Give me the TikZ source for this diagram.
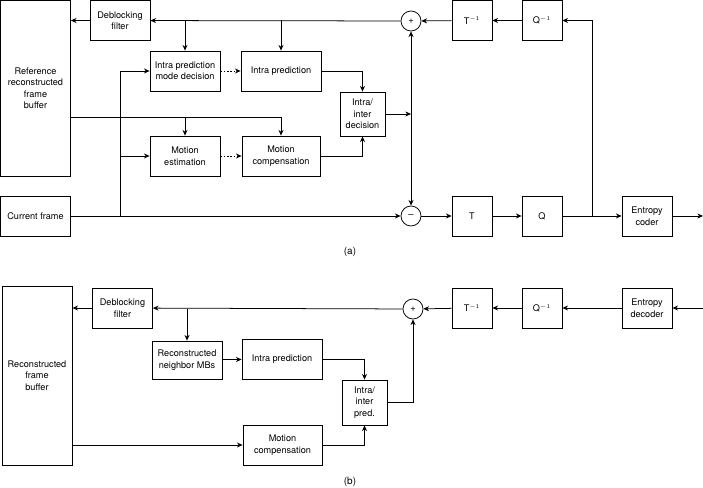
\documentclass[tikz,border=0pt]{standalone}
\usepackage{fontspec}
\setmainfont{TeX Gyre Heros}
\usepackage{tikz}
\usetikzlibrary{arrows.meta, positioning, calc}
\tikzset{
  block/.style={rectangle, draw=black, fill=white, align=center,
    minimum height=1.2cm, inner sep=1pt,
    font=\fontsize{7.8}{9.8}\selectfont, line width=0.65pt},
  sumnode/.style={circle, draw=black, fill=white, minimum size=0.6cm,
    inner sep=0pt, font=\fontsize{8}{9}\selectfont, line width=0.65pt},
  arrow/.style={-{Stealth[length=1.7mm, width=1.5mm]}, line width=0.65pt, color=black},
  line/.style={line width=0.65pt, color=black}
}

\begin{document}
\begin{tikzpicture}[x=0.03cm, y=-0.03cm,
  dotarrow/.style={arrow, dash pattern=on 1.4pt off 1.4pt},
  caption/.style={font=\fontsize{8.5}{9}\selectfont}]

  \useasboundingbox (0,0) rectangle (703,488);

  % (a) encoder
  \node[block, minimum width=2.1cm, minimum height=5.28cm] (buf) at (35.5,88) {Reference\\reconstructed\\frame\\buffer};
  \node[block, minimum width=1.8cm] (dbf) at (120,20.5) {Deblocking\\filter};
  \node[block, minimum width=2.1cm] (ipmd) at (185,71) {Intra prediction\\mode decision};
  \node[block, minimum width=2.4cm] (ip) at (281,71) {Intra prediction};
  \node[block, minimum width=2.1cm] (me) at (185,156) {Motion\\estimation};
  \node[block, minimum width=2.34cm] (mc) at (281,156) {Motion\\compensation};
  \node[block, minimum width=1.35cm, minimum height=1.32cm] (dec) at (362.5,114) {Intra/\\inter\\decision};
  \node[block, minimum width=2.1cm] (cur) at (35.5,216) {Current frame};
  \node[sumnode] (plus) at (411,21) {+};
  \node[sumnode] (minus) at (411,216) {--};
  \node[block, minimum width=1.2cm] (tinv) at (472,20.5) {T$^{-1}$};
  \node[block, minimum width=1.2cm] (qinv) at (542,20.5) {Q$^{-1}$};
  \node[block, minimum width=1.2cm] (t) at (472,216) {T};
  \node[block, minimum width=1.2cm] (q) at (542,216) {Q};
  \node[block, minimum width=1.5cm] (ec) at (647,216) {Entropy\\coder};
  \node[caption] (capa) at (350,252) {(a)};

  \coordinate (split) at (120,216);
  \coordinate (bufout) at (buf.east |- 0,117);
  \coordinate (join) at (dec.east -| plus);
  \coordinate (qsplit) at (592,216);
  \coordinate (ecout) at (703,216);

  \draw[arrow] (plus) -- (dbf);
  \draw[arrow] (dbf) -- (buf.east |- dbf);
  \draw[arrow] (ipmd.north |- dbf) -- (ipmd.north);
  \draw[arrow] (ip.north |- dbf) -- (ip.north);
  \draw[line] (cur) -- (split);
  \draw[arrow] (split) -- (minus);
  \draw[arrow] (split) |- (ipmd);
  \draw[arrow] (split |- me) -- (me);
  \draw[arrow] (bufout) -| (mc.north);
  \draw[arrow] (me.north |- bufout) -- (me.north);
  \draw[dotarrow] (ipmd) -- (ip);
  \draw[dotarrow] (me) -- (mc);
  \draw[arrow] (ip.east) -| (dec.north);
  \draw[arrow] (mc.east) -| (dec.south);
  \draw[arrow] (dec.east) -- (join);
  \draw[arrow] (join) -- (plus.south);
  \draw[arrow] (join) -- (minus.north);
  \draw[arrow] (minus) -- (t);
  \draw[arrow] (t) -- (q);
  \draw[arrow] (q) -- (ec);
  \draw[arrow] (qsplit) |- (qinv);
  \draw[arrow] (qinv) -- (tinv);
  \draw[arrow] (tinv) -- (plus);
  \draw[arrow] (ec) -- (ecout);

  % (b) decoder
  \node[block, minimum width=2.1cm, minimum height=5.37cm] (rbuf) at (37,375.5) {Reconstructed\\frame\\buffer};
  \node[block, minimum width=1.8cm] (dbf2) at (122.5,308) {Deblocking\\filter};
  \node[block, minimum width=2.1cm, minimum height=1.14cm] (nmb) at (187,360) {Reconstructed\\neighbor MBs};
  \node[block, minimum width=2.4cm] (ip2) at (282,359) {Intra prediction};
  \node[block, minimum width=2.37cm] (mc2) at (282.5,445) {Motion\\compensation};
  \node[block, minimum width=1.35cm, minimum height=1.35cm] (pred) at (364.5,402.5) {Intra/\\inter\\pred.};
  \node[sumnode] (plus2) at (413,309) {+};
  \node[block, minimum width=1.2cm] (tinv2) at (472,308) {T$^{-1}$};
  \node[block, minimum width=1.2cm] (qinv2) at (542,308) {Q$^{-1}$};
  \node[block, minimum width=1.5cm] (ed) at (647,308) {Entropy\\decoder};
  \node[caption] (capb) at (350,482) {(b)};

  \coordinate (edin) at (703,308);

  \draw[arrow] (plus2) -- (dbf2);
  \draw[arrow] (dbf2) -- (rbuf.east |- dbf2);
  \draw[arrow] (nmb.north |- plus2) -- (nmb.north);
  \draw[arrow] (nmb) -- (ip2);
  \draw[arrow] (ip2.east) -| (pred.north);
  \draw[arrow] (mc2.east) -| (pred.south);
  \draw[arrow] (rbuf.east |- mc2) -- (mc2);
  \draw[arrow] (pred.east) -| (plus2.south);
  \draw[arrow] (edin) -- (ed);
  \draw[arrow] (ed) -- (qinv2);
  \draw[arrow] (qinv2) -- (tinv2);
  \draw[arrow] (tinv2) -- (plus2);

\end{tikzpicture}
\end{document}
